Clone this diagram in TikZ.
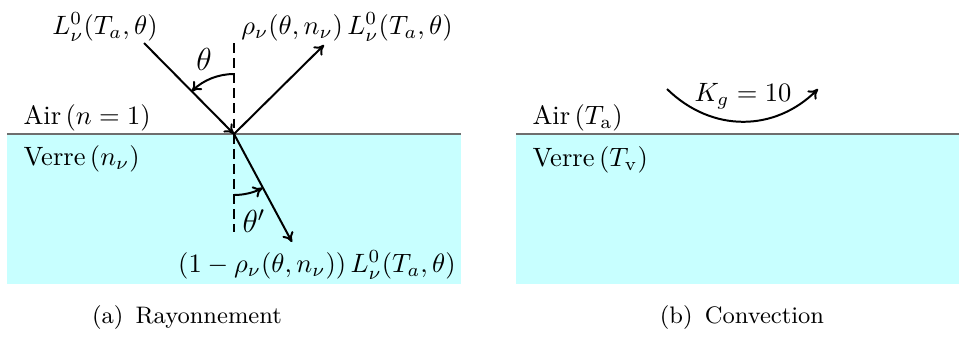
\documentclass[tikz,border=0pt]{standalone}
\usetikzlibrary{arrows.meta}
\definecolor{glass}{RGB}{200,255,255}
\definecolor{iface}{RGB}{110,110,110}
\begin{document}
\begin{tikzpicture}[x=0.377pt,y=-0.377pt,
  ray/.style={line width=0.75pt,-{To[length=3.6pt,width=4.6pt]}},
  normal/.style={line width=0.75pt,dash pattern=on 3.7pt off 2pt},
  txt/.style={inner sep=0pt},
  angtxt/.style={inner sep=0pt,font=\large},
  captxt/.style={inner sep=0pt,font=\small},
  iline/.style={iface,line width=0.8pt}]
\useasboundingbox (0,0) rectangle (959,336);
% left panel
\fill[glass] (7,134) rectangle (461,284);
\draw[iline] (7,134) -- (461,134);
\coordinate (O) at (234,134);
\coordinate (nt) at (234,43);
\coordinate (nb) at (234,232);
\coordinate (inc) at (144,43);
\coordinate (refl) at (324,45);
\coordinate (tra) at (292,242);
\coordinate (a1) at (234,74);
\coordinate (a2) at (234,195);
\draw[normal] (nt) -- (nb);
\draw[ray] (inc) -- (O);
\draw[ray] (O) -- (refl);
\draw[ray] (O) -- (tra);
\draw[ray] (a1) arc[start angle=270,end angle=225,radius=60];
\draw[ray] (a2) arc[start angle=90,end angle=62,radius=61];
\node[angtxt] (th) at (204,59) {$\theta$};
\node[angtxt] (thp) at (254,221) {$\theta'$};
\node[txt] (Lin) at (105,27) {$L^0_\nu(T_a,\theta)$};
\node[txt] (Lref) at (347,27) {$\rho_\nu(\theta,n_\nu)\,L^0_\nu(T_a,\theta)$};
\node[txt] (Ltra) at (317,265) {$(1-\rho_\nu(\theta,n_\nu))\,L^0_\nu(T_a,\theta)$};
\node[txt,anchor=west] (air1) at (23,118) {Air\,$(n=1)$};
\node[txt,anchor=west] (ver1) at (23,159) {Verre\,$(n_\nu)$};
\node[captxt] (capa) at (187,318) {(a)\, Rayonnement};
% right panel
\fill[glass] (516,134) rectangle (959,284);
\draw[iline] (516,134) -- (959,134);
\node[txt,anchor=west] (air2) at (532,118) {Air\,$(T_{\mathrm{a}})$};
\node[txt,anchor=west] (ver2) at (532,160) {Verre\,$(T_{\mathrm{v}})$};
\coordinate (k1) at (667,89);
\coordinate (k2) at (818,89);
\draw[ray] (k1) .. controls (712,133) and (775,132) .. (k2);
\node[txt] (kg) at (743,96) {$K_g=10$};
\node[captxt] (capb) at (742,318) {(b)\, Convection};
\end{tikzpicture}
\end{document}
